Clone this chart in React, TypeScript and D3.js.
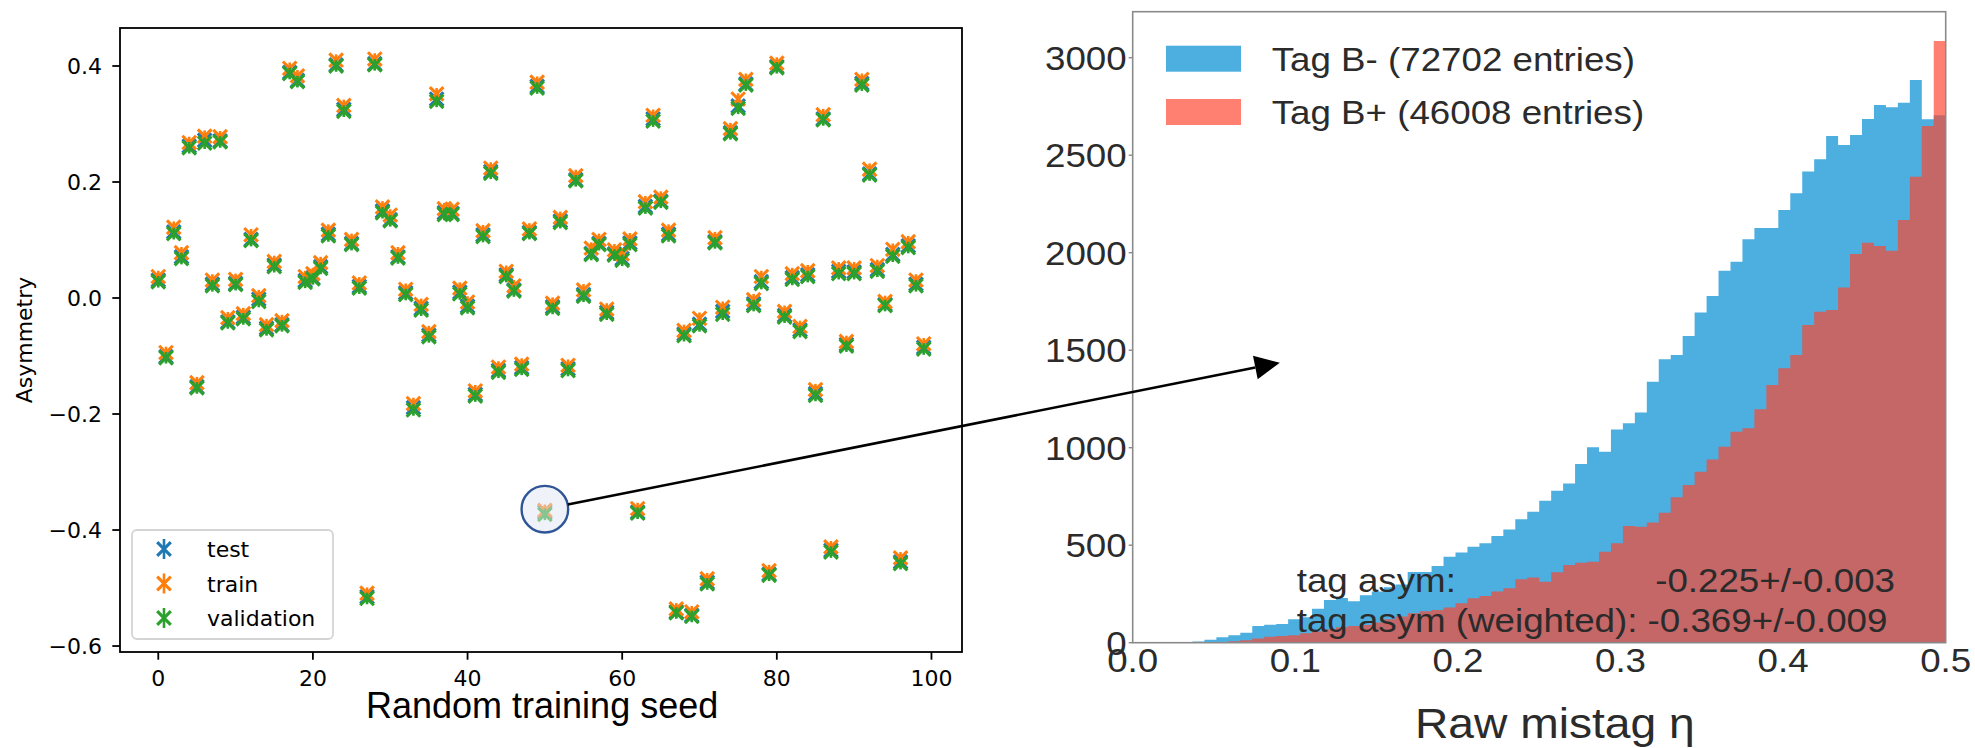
import React from 'react';
import * as d3 from 'd3';

// left panel: asymmetry per random training seed
const seeds = d3.range(100);

const asymValidation = [
  0.028, -0.103, 0.111, 0.068, 0.259, -0.155, 0.267, 0.021, 0.269, -0.043,
  0.023, -0.036, 0.099, -0.006, -0.055, 0.054, -0.048, 0.387, 0.373, 0.027,
  0.033, 0.051, 0.107, 0.4, 0.322, 0.092, 0.017, -0.518, 0.402, 0.147,
  0.133, 0.069, 0.006, -0.193, -0.021, -0.067, 0.339, 0.144, 0.144, 0.007,
  -0.017, -0.169, 0.106, 0.215, -0.128, 0.037, 0.012, -0.123, 0.111, 0.362,
  -0.373, -0.018, 0.13, -0.125, 0.202, 0.003, 0.075, 0.092, -0.028, 0.074,
  0.065, 0.092, -0.371, 0.155, 0.305, 0.165, 0.107, -0.543, -0.065, -0.549,
  -0.048, -0.493, 0.095, -0.028, 0.283, 0.327, 0.367, -0.013, 0.025, -0.478,
  0.397, -0.033, 0.032, -0.058, 0.037, -0.168, 0.307, -0.438, 0.042, -0.083,
  0.042, 0.367, 0.212, 0.046, -0.013, 0.072, -0.458, 0.087, 0.021, -0.088,
];

const asymTest = [
  0.031, -0.101, 0.114, 0.071, 0.262, -0.153, 0.272, 0.024, 0.271, -0.041,
  0.025, -0.033, 0.101, -0.002, -0.052, 0.057, -0.046, 0.389, 0.375, 0.03,
  0.035, 0.054, 0.11, 0.402, 0.325, 0.094, 0.02, -0.515, 0.404, 0.15,
  0.135, 0.071, 0.009, -0.189, -0.018, -0.064, 0.343, 0.147, 0.146, 0.01,
  -0.014, -0.166, 0.109, 0.218, -0.125, 0.04, 0.014, -0.12, 0.113, 0.365,
  -0.369, -0.015, 0.133, -0.122, 0.204, 0.006, 0.077, 0.094, -0.025, 0.076,
  0.068, 0.095, -0.369, 0.158, 0.309, 0.167, 0.11, -0.541, -0.062, -0.547,
  -0.045, -0.49, 0.097, -0.023, 0.285, 0.331, 0.369, -0.01, 0.028, -0.476,
  0.399, -0.03, 0.035, -0.055, 0.04, -0.165, 0.309, -0.435, 0.046, -0.08,
  0.045, 0.37, 0.214, 0.049, -0.011, 0.075, -0.455, 0.09, 0.024, -0.085,
];

const asymTrain = [
  0.037, -0.094, 0.122, 0.078, 0.268, -0.146, 0.279, 0.031, 0.278, -0.034,
  0.032, -0.027, 0.109, 0.004, -0.046, 0.063, -0.039, 0.396, 0.383, 0.037,
  0.042, 0.061, 0.117, 0.41, 0.332, 0.101, 0.026, -0.509, 0.412, 0.157,
  0.143, 0.078, 0.015, -0.182, -0.011, -0.058, 0.352, 0.154, 0.153, 0.017,
  -0.007, -0.16, 0.116, 0.224, -0.119, 0.046, 0.021, -0.114, 0.119, 0.372,
  -0.366, -0.009, 0.139, -0.116, 0.211, 0.014, 0.086, 0.101, -0.019, 0.083,
  0.076, 0.102, -0.363, 0.166, 0.315, 0.174, 0.117, -0.536, -0.056, -0.541,
  -0.035, -0.484, 0.104, -0.016, 0.292, 0.343, 0.377, -0.003, 0.037, -0.47,
  0.405, -0.023, 0.042, -0.049, 0.047, -0.158, 0.316, -0.429, 0.052, -0.075,
  0.052, 0.377, 0.222, 0.056, -0.006, 0.084, -0.448, 0.097, 0.031, -0.079,
];

const asymErr = 0.01;
const seedTicks = [0, 20, 40, 60, 80, 100];
const asymTicks = [0.4, 0.2, 0.0, -0.2, -0.4, -0.6];

// right panel: raw mistag histograms (68 bins on [0, 0.5])
const mistagRange = [0, 0.5];
const tagBMinus = [
  0, 0, 0, 0, 3, 6, 15, 28, 38, 51,
  86, 92, 96, 120, 130, 174, 219, 229, 212, 243,
  263, 284, 298, 363, 363, 393, 441, 462, 492, 510,
  547, 580, 633, 672, 728, 779, 817, 916, 1002, 979,
  1094, 1125, 1180, 1338, 1453, 1475, 1573, 1694, 1778, 1908,
  1954, 2069, 2127, 2127, 2219, 2305, 2417, 2479, 2598, 2552,
  2604, 2686, 2757, 2746, 2769, 2886, 2684, 2705,
];
const tagBPlus = [
  0, 0, 0, 0, 0, 0, 0, 0, 8, 12,
  21, 31, 34, 38, 48, 58, 68, 79, 86, 91,
  103, 120, 134, 151, 161, 168, 181, 202, 228, 240,
  262, 279, 325, 335, 313, 361, 399, 410, 415, 467,
  510, 598, 595, 617, 667, 746, 809, 877, 940, 1005,
  1082, 1100, 1197, 1322, 1407, 1475, 1629, 1697, 1706, 1822,
  1993, 2051, 2034, 2010, 2168, 2390, 2650, 3086,
];
const mistagTicks = [0, 0.1, 0.2, 0.3, 0.4, 0.5];
const countTicks = [0, 500, 1000, 1500, 2000, 2500, 3000];
const asymLines = [
  { label: 'tag asym:', value: '-0.225+/-0.003' },
  { label: 'tag asym (weighted): -0.369+/-0.009', value: '' },
];

const W = 1975;
const H = 748;
const L = { left: 120, right: 962, top: 28, bottom: 652 };
const R = { left: 1132.7, right: 1945.7, top: 11.7, bottom: 642.7 };

const MPL = 'DejaVu Sans, sans-serif';
const ARIAL = 'Liberation Sans, Arial, sans-serif';
const GREY = '#2b2b2b';

const series = [
  { name: 'test', values: asymTest, color: '#1f77b4' },
  { name: 'train', values: asymTrain, color: '#ff7f0e' },
  { name: 'validation', values: asymValidation, color: '#2ca02c' },
];

const xMark = (r: number) => `M${-r},${-r}L${r},${r}M${-r},${r}L${r},${-r}`;
const fmtMinus = (v: number) => d3.format('.1f')(v).replace('-', '\u2212');

// text stretched a bit horizontally, like the pasted figure
const SText = ({ x, y, size, anchor = 'start', sx = 1.08, children }: any) => (
  <text
    transform={`translate(${x},${y}) scale(${sx},1)`}
    fontFamily={ARIAL}
    fontSize={size}
    textAnchor={anchor}
    fill={GREY}
  >
    {children}
  </text>
);

const App = () => {
  const xL = d3.scaleLinear().domain([-4.95, 103.95]).range([L.left, L.right]);
  const yL = d3.scaleLinear().domain([-0.6103, 0.4655]).range([L.bottom, L.top]);

  const xR = d3.scaleLinear().domain(mistagRange).range([R.left, R.right]);
  const yR = d3.scaleLinear().domain([0, 3236]).range([R.bottom, R.top]);

  const binW = (mistagRange[1] - mistagRange[0]) / tagBMinus.length;
  const stepArea = (counts: number[]) => {
    const pts = counts.map((c, i) => [mistagRange[0] + i * binW, c]);
    pts.push([mistagRange[1], counts[counts.length - 1]]);
    return d3
      .area<number[]>()
      .x((d) => xR(d[0]))
      .y0(yR(0))
      .y1((d) => yR(d[1]))
      .curve(d3.curveStepAfter)(pts) as string;
  };

  // highlight + arrow from seed 50 to the histogram
  const cx = xL(50);
  const cy = yL(-0.364);
  const cr = 23.3;
  const tip = [xR(0.0905), yR(1436)];
  const len = Math.hypot(tip[0] - cx, tip[1] - cy);
  const ux = (tip[0] - cx) / len;
  const uy = (tip[1] - cy) / len;
  const head = 25;
  const half = 12;
  const bx = tip[0] - ux * head;
  const by = tip[1] - uy * head;

  return (
    <svg width={W} height={H} style={{ position: 'absolute', left: 0, top: 0, background: '#fff' }}>
      <rect width={W} height={H} fill="#fff" />

      {/* ---- left: scatter ---- */}
      {series.map((s) => (
        <g key={s.name} stroke={s.color} fill="none">
          {seeds.map((seed) => {
            const v = s.values[seed];
            return (
              <g key={seed}>
                <line x1={xL(seed)} x2={xL(seed)} y1={yL(v - asymErr)} y2={yL(v + asymErr)} strokeWidth={2.6} />
                <path d={xMark(6.8)} transform={`translate(${xL(seed)},${yL(v)})`} strokeWidth={3.1} />
              </g>
            );
          })}
        </g>
      ))}

      <circle cx={cx} cy={cy} r={cr} fill="#dfe7f3" fillOpacity={0.5} stroke="#2f5597" strokeWidth={2.4} />

      <rect x={L.left} y={L.top} width={L.right - L.left} height={L.bottom - L.top} fill="none" stroke="#000" strokeWidth={1.8} />

      {asymTicks.map((t) => (
        <g key={t}>
          <line x1={L.left - 7.7} x2={L.left} y1={yL(t)} y2={yL(t)} stroke="#000" strokeWidth={1.8} />
          <text x={L.left - 18} y={yL(t) + 8} textAnchor="end" fontFamily={MPL} fontSize={22}>
            {fmtMinus(t)}
          </text>
        </g>
      ))}
      {seedTicks.map((t) => (
        <g key={t}>
          <line x1={xL(t)} x2={xL(t)} y1={L.bottom} y2={L.bottom + 7.7} stroke="#000" strokeWidth={1.8} />
          <text x={xL(t)} y={686} textAnchor="middle" fontFamily={MPL} fontSize={22}>
            {t}
          </text>
        </g>
      ))}

      <text transform={`translate(32,${(L.top + L.bottom) / 2}) rotate(-90)`} textAnchor="middle" fontFamily={MPL} fontSize={22}>
        Asymmetry
      </text>
      <text x={366} y={718} fontFamily={ARIAL} fontSize={36}>
        Random training seed
      </text>

      {/* legend */}
      <rect x={132} y={530} width={201} height={109} rx={5} fill="#fff" fillOpacity={0.8} stroke="#d4d4d4" strokeWidth={1.8} />
      {series.map((s, i) => {
        const ly = 549 + i * 34.5;
        return (
          <g key={s.name}>
            <g stroke={s.color} fill="none">
              <line x1={164} x2={164} y1={ly - 10} y2={ly + 10} strokeWidth={2.6} />
              <path d={xMark(6.8)} transform={`translate(164,${ly})`} strokeWidth={3.1} />
            </g>
            <text x={207} y={ly + 8} fontFamily={MPL} fontSize={22}>
              {s.name}
            </text>
          </g>
        );
      })}

      {/* ---- right: histogram ---- */}
      <path d={stepArea(tagBMinus)} fill="#4daee0" />
      <path d={stepArea(tagBPlus)} fill="#ff442d" fillOpacity={0.68} />
      <rect x={R.left} y={R.top} width={R.right - R.left} height={R.bottom - R.top} fill="none" stroke="#8a8a8a" strokeWidth={1.6} />

      {countTicks.map((t) => (
        <g key={t}>
          <line x1={R.left - 4} x2={R.left} y1={yR(t)} y2={yR(t)} stroke="#8a8a8a" strokeWidth={1.4} />
          <SText x={R.left - 6} y={yR(t) + 12} size={34} anchor="end">
            {t}
          </SText>
        </g>
      ))}
      {mistagTicks.map((t) => (
        <SText key={t} x={xR(t)} y={672} size={34} anchor="middle">
          {d3.format('.1f')(t)}
        </SText>
      ))}
      <SText x={1415} y={738} size={42} sx={1.1}>
        Raw mistag η
      </SText>

      {/* legend */}
      <rect x={1166} y={45.7} width={75} height={26} fill="#4daee0" />
      <rect x={1166} y={99} width={75} height={26} fill="#ff442d" fillOpacity={0.68} />
      <SText x={1271.7} y={70.7} size={34}>
        Tag B- (72702 entries)
      </SText>
      <SText x={1271.7} y={124} size={34}>
        Tag B+ (46008 entries)
      </SText>

      {asymLines.map((l, i) => (
        <g key={l.label}>
          <SText x={1296.7} y={591.7 + i * 40} size={34}>
            {l.label}
          </SText>
          {l.value && (
            <SText x={1895} y={591.7 + i * 40} size={34} anchor="end">
              {l.value}
            </SText>
          )}
        </g>
      ))}

      {/* arrow */}
      <line x1={cx + ux * cr} y1={cy + uy * cr} x2={bx} y2={by} stroke="#000" strokeWidth={2.6} />
      <polygon
        points={`${tip[0]},${tip[1]} ${bx - uy * half},${by + ux * half} ${bx + uy * half},${by - ux * half}`}
        fill="#000"
      />
    </svg>
  );
};

export default App;
